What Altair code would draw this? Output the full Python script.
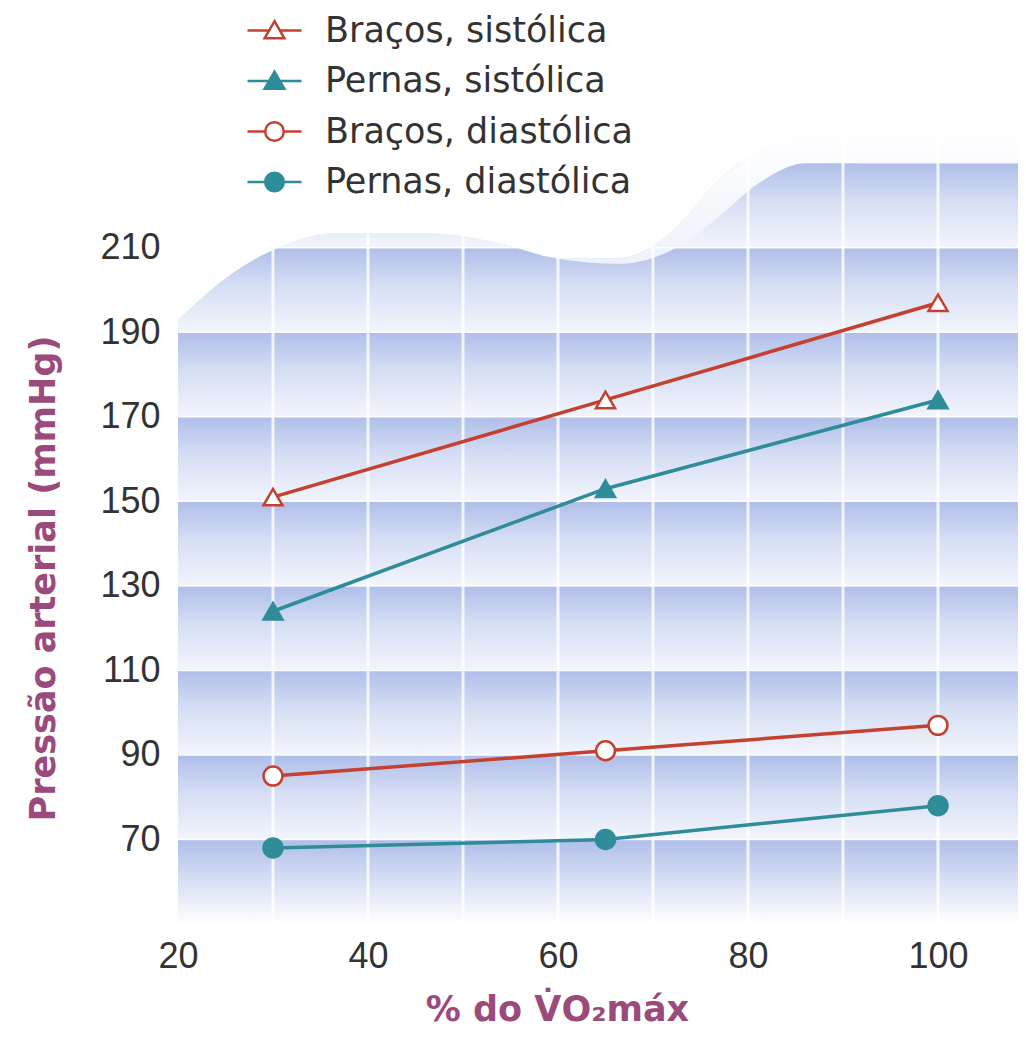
import altair as alt
import pandas as pd

# ---------------- data ----------------
x_pct = [30, 65, 100]
series_names = ["Braços, sistólica", "Pernas, sistólica", "Braços, diastólica", "Pernas, diastólica"]
bracos_sist = [151, 174, 197]
pernas_sist = [124, 153, 174]
bracos_diast = [85, 91, 97]
pernas_diast = [68, 70, 78]

x_ticks = [20, 40, 60, 80, 100]
y_ticks = [70, 90, 110, 130, 150, 170, 190, 210]
grid_x = [30, 40, 50, 60, 70, 80, 90, 100]
band_lo = [70, 90, 110, 130, 150, 170, 190, 210]
band_hi = [90, 110, 130, 150, 170, 190, 210, 230]
bottom_lo = [50]
bottom_hi = [70]

# decorative wavy top of the background (data units)
wave_x = [20, 25.2, 30, 36.5, 46.5, 53.7, 60.5, 66.3, 72.0, 76.5, 81.2, 86.3, 92.8, 100, 108.42]
wave_top = [193.0, 203.1, 209.5, 213.5, 213.5, 211.2, 207.2, 206.2, 209.5, 216.6, 225.4, 230.1, 230.0, 230.0, 230.0]
glow_top = [193.0, 203.1, 209.5, 213.5, 213.5, 211.2, 207.5, 207.5, 214.0, 225.0, 233.3, 236.8, 238.4, 238.6, 238.6]

RED = "#c4402f"
TEAL = "#2f8c99"
stroke_range = [RED, TEAL, RED, TEAL]
fill_range = ["white", TEAL, "white", TEAL]
shape_range = ["triangle-up", "triangle-up", "circle", "circle"]
# legend symbols: marker with a short line through it
TRI = "M-1.8,0H-0.38M0.38,0H1.8M0,-0.62L0.66,0.52H-0.66Z"
CIRC = "M-1.8,0H-0.62M0.62,0H1.8M-0.62,0A0.62,0.62,0,1,0,0.62,0A0.62,0.62,0,1,0,-0.62,0Z"
legend_shape_range = [TRI, TRI, CIRC, CIRC]

rows = []
for name, vals in zip(series_names, [bracos_sist, pernas_sist, bracos_diast, pernas_diast]):
    for xv, yv in zip(x_pct, vals):
        rows.append({"serie": name, "x": xv, "y": yv})
df = pd.DataFrame(rows)
bands = pd.DataFrame({"lo": band_lo, "hi": band_hi})
bottom = pd.DataFrame({"lo": bottom_lo, "hi": bottom_hi})
wave = pd.DataFrame({"x": wave_x, "wave": wave_top, "glow": glow_top})
gridx = pd.DataFrame({"gx": grid_x})
gridy = pd.DataFrame({"gy": y_ticks})

XDOM = [20, 108.42]
YDOM = [50, 240]
xs = alt.Scale(domain=XDOM, nice=False, zero=False)
ys = alt.Scale(domain=YDOM, nice=False, zero=False)

x_axis = alt.Axis(values=x_ticks, labelPadding=15, labelFlush=False, title="% do V̇O₂máx",
                  titleX=379, titleY=96, titleBaseline="alphabetic", titleAlign="center")
y_axis = alt.Axis(values=y_ticks, labelPadding=18, labelFlush=False, title="Pressão arterial (mmHg)",
                  titleX=-135, titleY=457, titleAngle=270, titleBaseline="middle", titleAlign="center")

legend = alt.Legend(
    title=None, orient="none", legendX=79, legendY=-108, padding=0,
    labelFont="DejaVu Sans", labelFontSize=35, labelColor="#333333", labelOffset=33,
    labelLimit=0, symbolSize=900, symbolStrokeWidth=2.5, rowPadding=14.5, symbolOpacity=1,
)

grad_band = alt.Gradient(gradient="linear", x1=0, x2=0, y1=0, y2=1, stops=[
    alt.GradientStop(offset=0, color="#afbee9"),
    alt.GradientStop(offset=0.45, color="#d6def4"),
    alt.GradientStop(offset=1, color="#f2f5fc")])
grad_bottom = alt.Gradient(gradient="linear", x1=0, x2=0, y1=0, y2=1, stops=[
    alt.GradientStop(offset=0, color="#afbee9"),
    alt.GradientStop(offset=0.5, color="#d8e0f5"),
    alt.GradientStop(offset=1, color="#ffffff")])
grad_glow = alt.Gradient(gradient="linear", x1=0, x2=0, y1=0, y2=1, stops=[
    alt.GradientStop(offset=0, color="#ffffff"),
    alt.GradientStop(offset=1, color="#e8edf9")])

band_layer = alt.Chart(bands).mark_rect(fill=grad_band).encode(
    y=alt.Y("lo:Q", scale=ys, axis=y_axis), y2="hi:Q")
bottom_layer = alt.Chart(bottom).mark_rect(fill=grad_bottom).encode(
    y=alt.Y("lo:Q", scale=ys), y2="hi:Q")
mask_layer = alt.Chart(wave).mark_area(fill="white", interpolate="monotone", orient="vertical", clip=True).encode(
    x=alt.X("x:Q", scale=xs), y=alt.Y("glow:Q", scale=ys), y2=alt.datum(240))
glow_layer = alt.Chart(wave).mark_area(fill=grad_glow, interpolate="monotone", orient="vertical", clip=True).encode(
    x=alt.X("x:Q", scale=xs), y=alt.Y("wave:Q", scale=ys), y2="glow:Q")
vgrid = alt.Chart(gridx).mark_rule(color="white", strokeWidth=3, opacity=0.8).encode(
    x=alt.X("gx:Q", scale=xs))
hgrid = alt.Chart(gridy).mark_rule(color="white", strokeWidth=1.5, opacity=0.9).encode(
    y=alt.Y("gy:Q", scale=ys))

sdom = alt.Scale(domain=series_names, range=stroke_range)
fdom = alt.Scale(domain=series_names, range=fill_range)
shdom = alt.Scale(domain=series_names, range=shape_range)
lshdom = alt.Scale(domain=series_names, range=legend_shape_range)

lines = alt.Chart(df).mark_line(strokeWidth=3.5).encode(
    x=alt.X("x:Q", scale=xs, axis=x_axis),
    y=alt.Y("y:Q", scale=ys),
    stroke=alt.Stroke("serie:N", scale=sdom, legend=None),
    order="x:Q")
points = alt.Chart(df).mark_point(filled=True, size=360, strokeWidth=2.5, opacity=1).encode(
    x=alt.X("x:Q", scale=xs),
    y=alt.Y("y:Q", scale=ys),
    stroke=alt.Stroke("serie:N", scale=sdom, legend=None),
    fill=alt.Fill("serie:N", scale=fdom, legend=None),
    shape=alt.Shape("serie:N", scale=shdom, legend=None))
# legend-only layer (no visible marks): symbols combine line + marker
legend_layer = alt.Chart(df).transform_filter("datum.x < 0").mark_point(
    filled=True, size=900, strokeWidth=2.5, opacity=1).encode(
    x=alt.X("x:Q", scale=xs),
    y=alt.Y("y:Q", scale=ys),
    stroke=alt.Stroke("serie:N", scale=sdom, legend=legend),
    fill=alt.Fill("serie:N", scale=fdom, legend=legend),
    shape=alt.Shape("serie:N", scale=lshdom, legend=legend))

chart = alt.layer(band_layer, bottom_layer, mask_layer, glow_layer, vgrid, hgrid,
                  lines, points, legend_layer).resolve_scale(
    stroke="independent", fill="independent", shape="independent"
).properties(
    width=840, height=803,
    autosize=alt.AutoSizeParams(type="none"),
    padding={"left": 170, "top": 113, "right": 0, "bottom": 105},
    background="white",
).configure_view(stroke=None).configure_axis(
    domain=False, ticks=False, grid=False,
    labelFont="Liberation Sans", labelFontSize=36, labelColor="#333333",
    titleFont="DejaVu Sans", titleFontSize=35, titleFontWeight="bold", titleColor="#9b4a7c",
)

chart.save("out.html", embed_options={"renderer": "svg", "actions": False})
